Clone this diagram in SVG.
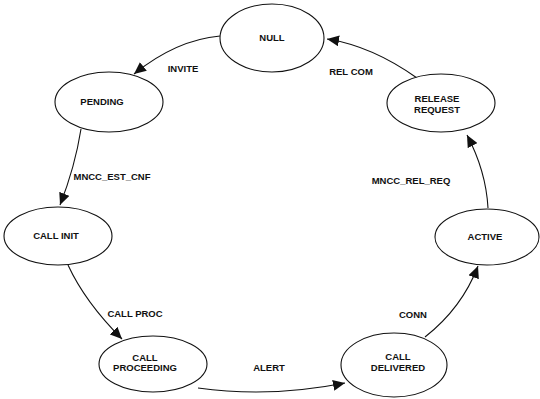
<svg xmlns="http://www.w3.org/2000/svg" width="540" height="399" viewBox="0 0 540 399">
<style>
.n ellipse{fill:#fff;stroke:#111;stroke-width:1.1}
text{font-family:"Liberation Sans",Arial,sans-serif;font-weight:bold;font-size:9.5px;fill:#111;text-anchor:middle}
.e path{fill:none;stroke:#111;stroke-width:1.1;marker-end:url(#ah)}
</style>
<defs>
<marker id="ah" markerUnits="userSpaceOnUse" markerWidth="13" markerHeight="11" refX="12" refY="5.5" orient="auto">
<path d="M0,0 L12,5.5 L0,11 Z" fill="#111"/>
</marker>
</defs>
<rect width="540" height="399" fill="#fff"/>
<g class="e" id="connectors">
<path d="M220,36 Q176,40 134,74"/>
<path d="M81,129 Q75,167 60,205"/>
<path d="M68,265 Q85,302 122,339"/>
<path d="M198,388 Q270,398 345,383"/>
<path d="M425,337 Q462,308 478,266"/>
<path d="M488,208 Q486,171 467,135"/>
<path d="M417,78 Q372,46 327,39"/>
</g>
<g id="labels">
<text x="183" y="72">INVITE</text>
<text x="112" y="180">MNCC_EST_CNF</text>
<text x="135" y="317">CALL PROC</text>
<text x="269" y="371">ALERT</text>
<text x="413" y="318">CONN</text>
<text x="411" y="184">MNCC_REL_REQ</text>
<text x="351" y="75">REL COM</text>
</g>
<g class="n" id="null"><ellipse cx="272" cy="38" rx="52" ry="34"/><text x="272" y="41">NULL</text></g>
<g class="n" id="pending"><ellipse cx="109" cy="102" rx="54" ry="30"/><text x="102" y="105">PENDING</text></g>
<g class="n" id="release"><ellipse cx="441" cy="103" rx="54" ry="29"/><text x="437" y="102">RELEASE</text><text x="437" y="113">REQUEST</text></g>
<g class="n" id="callinit"><ellipse cx="58" cy="236" rx="54" ry="29"/><text x="56" y="239">CALL INIT</text></g>
<g class="n" id="active"><ellipse cx="487" cy="237" rx="52" ry="28"/><text x="485" y="240">ACTIVE</text></g>
<g class="n" id="proceeding"><ellipse cx="153" cy="364" rx="54" ry="28"/><text x="145" y="361">CALL</text><text x="145" y="371">PROCEEDING</text></g>
<g class="n" id="delivered"><ellipse cx="394" cy="365" rx="53" ry="32"/><text x="398" y="360">CALL</text><text x="398" y="371">DELIVERED</text></g>
</svg>
